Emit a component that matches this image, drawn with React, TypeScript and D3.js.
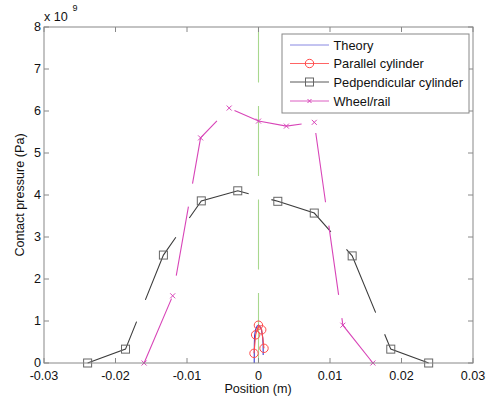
import React from "react";
import * as d3 from "d3";

// values in metres / 1e9 Pa
const theoryX = [-0.0006, -0.00058, -0.00055, -0.0004, -0.0002, 0, 0.0002, 0.0004, 0.0006, 0.00065, 0.00066];
const theoryY = [0, 0.45, 0.65, 0.8, 0.88, 0.9, 0.87, 0.8, 0.6, 0.4, 0];

const parallelX = [-0.00063, -0.0004, -0.00001, 0.00045, 0.00077];
const parallelY = [0.23, 0.67, 0.9, 0.79, 0.35];

const perpX = [-0.0239, -0.0186, -0.0133, -0.008, -0.0029, 0.0027, 0.0078, 0.0131, 0.0185, 0.0238];
const perpY = [0, 0.33, 2.57, 3.86, 4.1, 3.85, 3.57, 2.55, 0.33, 0];

const wheelX = [-0.016, -0.012, -0.0081, -0.0041, 0, 0.0039, 0.0078, 0.0118, 0.016];
const wheelY = [0, 1.6, 5.36, 6.07, 5.76, 5.64, 5.73, 0.9, 0];

const centerX = [0, 0];
const centerY = [0, 8];

const xTicks = [-0.03, -0.02, -0.01, 0, 0.01, 0.02, 0.03];
const xTickLabels = ["-0.03", "-0.02", "-0.01", "0", "0.01", "0.02", "0.03"];
const yTicks = [0, 1, 2, 3, 4, 5, 6, 7, 8];

const legendNames = ["Theory", "Parallel cylinder", "Pedpendicular cylinder", "Wheel/rail"];

const W = 490;
const H = 399;
const FONT = "Liberation Sans, Arial, sans-serif";
const DASH = "70 23.5";

const x = d3.scaleLinear().domain([-0.03, 0.03]).range([44, 473]);
const y = d3.scaleLinear().domain([0, 8]).range([363, 27]);

const zip = (xs: number[], ys: number[]) => xs.map((v, i) => [v, ys[i]] as [number, number]);
const line = d3.line<[number, number]>().x((d) => x(d[0])).y((d) => y(d[1]));

const colors = {
  theory: "#3b3bd0",
  parallel: "#ff4a4a",
  perp: "#3c3c3c",
  perpMarker: "#666",
  wheel: "#d845b8",
  center: "#a8d88e",
  axis: "#888",
};

function Square({ cx, cy, s = 8, stroke }: { cx: number; cy: number; s?: number; stroke: string }) {
  return <rect x={cx - s / 2} y={cy - s / 2} width={s} height={s} fill="none" stroke={stroke} strokeWidth={1} />;
}

function Cross({ cx, cy, s = 2.5, stroke }: { cx: number; cy: number; s?: number; stroke: string }) {
  return (
    <path
      d={`M${cx - s},${cy - s}L${cx + s},${cy + s}M${cx - s},${cy + s}L${cx + s},${cy - s}`}
      stroke={stroke}
      strokeWidth={1}
    />
  );
}

export default function App() {
  const theory = zip(theoryX, theoryY);
  const parallel = zip(parallelX, parallelY);
  const perp = zip(perpX, perpY);
  const wheel = zip(wheelX, wheelY);
  const center = zip(centerX, centerY);

  const [x0, x1] = x.range();
  const [y0, y1] = y.range();

  // legend layout
  const lg = { left: 282, top: 34, right: 469, bottom: 113 };
  const rows = [45, 63.5, 82, 101];

  return (
    <svg
      width={W}
      height={H}
      style={{ position: "absolute", left: 0, top: 0, background: "#fff" }}
      fontFamily={FONT}
    >
      <rect width={W} height={H} fill="#fff" />

      {/* data */}
      <g fill="none" strokeWidth={1.1}>
        <path d={line(center) ?? ""} stroke={colors.center} strokeDasharray={DASH} />
        <path d={line(theory) ?? ""} stroke={colors.theory} strokeDasharray={DASH} />
        <path d={line(parallel) ?? ""} stroke={colors.parallel} strokeDasharray={DASH} />
        {parallel.map((d, i) => (
          <circle key={i} cx={x(d[0])} cy={y(d[1])} r={4.2} stroke={colors.parallel} strokeWidth={1} />
        ))}
        <path d={line(perp) ?? ""} stroke={colors.perp} strokeDasharray={DASH} />
        {perp.map((d, i) => (
          <Square key={i} cx={x(d[0])} cy={y(d[1])} stroke={colors.perpMarker} />
        ))}
        <path d={line(wheel) ?? ""} stroke={colors.wheel} strokeDasharray={DASH} />
        {wheel.map((d, i) => (
          <Cross key={i} cx={x(d[0])} cy={y(d[1])} stroke={colors.wheel} />
        ))}
      </g>

      {/* axes box */}
      <rect x={x0} y={y1} width={x1 - x0} height={y0 - y1} fill="none" stroke={colors.axis} strokeWidth={1} />
      <g stroke={colors.axis} strokeWidth={1}>
        {xTicks.map((t) => (
          <g key={"xt" + t}>
            <line x1={x(t)} x2={x(t)} y1={y0} y2={y0 - 5} />
            <line x1={x(t)} x2={x(t)} y1={y1} y2={y1 + 5} />
          </g>
        ))}
        {yTicks.map((t) => (
          <g key={"yt" + t}>
            <line x1={x0} x2={x0 + 5} y1={y(t)} y2={y(t)} />
            <line x1={x1} x2={x1 - 5} y1={y(t)} y2={y(t)} />
          </g>
        ))}
      </g>

      {/* tick labels */}
      <g fontSize={12.6} fill="#111">
        {xTicks.map((t, i) => (
          <text key={"xl" + t} x={x(t)} y={380} textAnchor="middle">
            {xTickLabels[i]}
          </text>
        ))}
        {yTicks.map((t) => (
          <text key={"yl" + t} x={41} y={y(t)} dy="0.34em" textAnchor="end">
            {t}
          </text>
        ))}
      </g>

      {/* exponent */}
      <text x={44} y={20.5} fontSize={12.6} fill="#111">
        x 10
      </text>
      <text x={72.5} y={10.5} fontSize={9} fill="#111">
        9
      </text>

      {/* axis labels */}
      <text x={258} y={393} fontSize={12.6} textAnchor="middle" fill="#111">
        Position (m)
      </text>
      <text transform="translate(24,195) rotate(-90)" fontSize={12.6} textAnchor="middle" fill="#111">
        Contact pressure (Pa)
      </text>

      {/* legend */}
      <rect
        x={lg.left}
        y={lg.top}
        width={lg.right - lg.left}
        height={lg.bottom - lg.top}
        fill="#fff"
        stroke={colors.axis}
        strokeWidth={1}
      />
      {legendNames.map((name, i) => {
        const ly = rows[i];
        const stroke = [colors.theory, colors.parallel, colors.perp, colors.wheel][i];
        const mx = 309.5;
        return (
          <g key={name}>
            <line x1={290} x2={329} y1={ly} y2={ly} stroke={stroke} strokeWidth={1} opacity={i === 0 ? 0.6 : 0.85} />
            {i === 1 && <circle cx={mx} cy={ly} r={4.2} fill="none" stroke={colors.parallel} />}
            {i === 2 && <Square cx={mx} cy={ly} stroke={colors.perpMarker} />}
            {i === 3 && <Cross cx={mx} cy={ly} stroke={colors.wheel} s={2} />}
            <text x={333.5} y={ly} dy="0.36em" fontSize={12.8} fill="#111">
              {name}
            </text>
          </g>
        );
      })}
    </svg>
  );
}
